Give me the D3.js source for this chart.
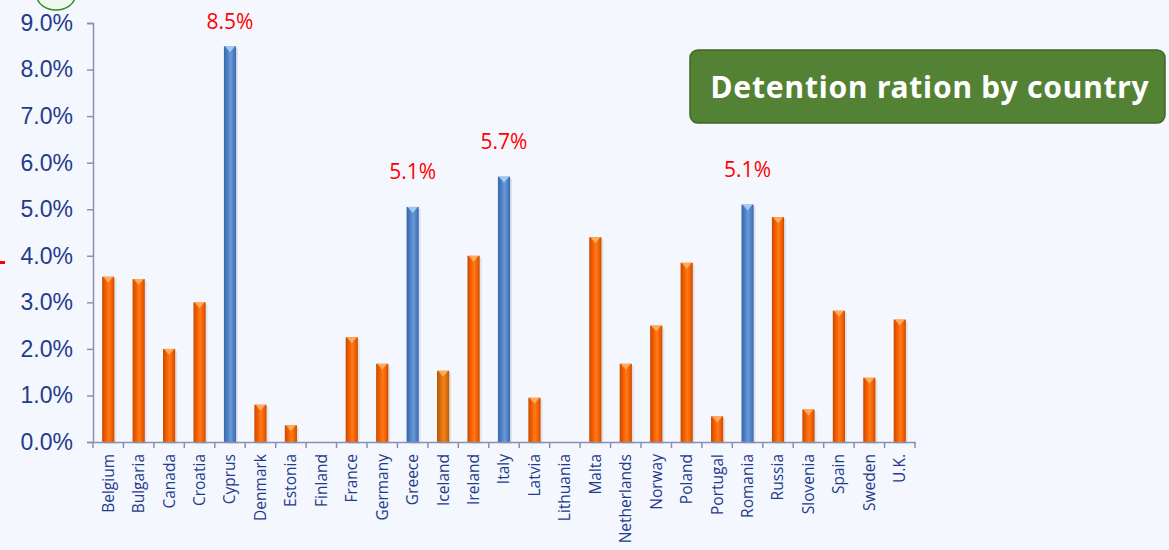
<!DOCTYPE html>
<html>
<head>
<meta charset="utf-8">
<script src="https://cdn.jsdelivr.net/npm/d3@7"></script>
<style>
  body { margin: 0; background: #f4f7fd; }
  svg { display: block; }
</style>
</head>
<body>
<svg width="1169" height="550"></svg>
<script>
// data
var countries = ["Belgium", "Bulgaria", "Canada", "Croatia", "Cyprus", "Denmark", "Estonia", "Finland",
  "France", "Germany", "Greece", "Iceland", "Ireland", "Italy", "Latvia", "Lithuania", "Malta",
  "Netherlands", "Norway", "Poland", "Portugal", "Romania", "Russia", "Slovenia", "Spain", "Sweden", "U.K."];
var ratios = [3.55, 3.5, 2.0, 3.0, 8.5, 0.8, 0.36, 0, 2.25, 1.68, 5.05, 1.53, 4.0, 5.7, 0.95, 0,
  4.4, 1.68, 2.5, 3.85, 0.55, 5.1, 4.83, 0.7, 2.82, 1.38, 2.63];
var highlighted = ["Cyprus", "Greece", "Italy", "Romania"];
var callouts = [
  {country: "Cyprus", label: "8.5%"},
  {country: "Greece", label: "5.1%"},
  {country: "Italy", label: "5.7%"},
  {country: "Romania", label: "5.1%"}
];
var yTicks = [0, 1, 2, 3, 4, 5, 6, 7, 8, 9];
var title = "Detention ration by country";

var data = countries.map(function(c, i) { return {country: c, value: ratios[i]}; });

var svg = d3.select("svg");
var margin = {top: 23, left: 93, right: 254, bottom: 108};
var width = 1169 - margin.left - margin.right;
var height = 550 - margin.top - margin.bottom;
var axisColor = "#8a8fb4";
var labelColor = "#1f3b8c";

// gradients
var defs = svg.append("defs");
function barGradient(id, dark, mid, light) {
  var g = defs.append("linearGradient").attr("id", id).attr("x1", "0%").attr("x2", "100%");
  g.append("stop").attr("offset", "0%").attr("stop-color", dark);
  g.append("stop").attr("offset", "30%").attr("stop-color", mid);
  g.append("stop").attr("offset", "55%").attr("stop-color", light);
  g.append("stop").attr("offset", "80%").attr("stop-color", mid);
  g.append("stop").attr("offset", "100%").attr("stop-color", dark);
}
barGradient("orange", "#c84a00", "#f45f00", "#ff7a1a");
barGradient("iceland", "#b45800", "#dc6e08", "#ea8424");
barGradient("blue", "#3a68a8", "#4d80c6", "#6a9ad6");

var x = d3.scaleBand().domain(countries).range([0, width]).paddingInner(0.6).paddingOuter(0.3);
var y = d3.scaleLinear().domain([0, 9]).range([height, 0]);

var g = svg.append("g").attr("transform", "translate(" + margin.left + "," + margin.top + ")");

// y axis
var yAxis = g.append("g")
  .call(d3.axisLeft(y).tickValues(yTicks).tickSize(6).tickPadding(14)
    .tickFormat(function(d) { return d.toFixed(1) + "%"; }));
yAxis.selectAll("text")
  .attr("fill", labelColor)
  .style("font-family", "'Liberation Sans', Arial, sans-serif")
  .style("font-size", "23px");
yAxis.select(".domain").attr("stroke", axisColor).attr("stroke-width", 1.5);
yAxis.selectAll(".tick line").attr("stroke", axisColor).attr("stroke-width", 1.5);

// bars
function fillFor(d) {
  if (highlighted.indexOf(d.country) >= 0) return "url(#blue)";
  if (d.country === "Iceland") return "url(#iceland)";
  return "url(#orange)";
}
var bars = g.selectAll(".bar").data(data.filter(function(d) { return d.value > 0; }))
  .enter().append("g").attr("class", "bar");

bars.append("rect")
  .attr("x", function(d) { return x(d.country) + 2; })
  .attr("y", function(d) { return y(d.value) + 2; })
  .attr("width", x.bandwidth())
  .attr("height", function(d) { return height - y(d.value); })
  .attr("fill", "#000").attr("opacity", 0.08);

bars.append("rect")
  .attr("x", function(d) { return x(d.country); })
  .attr("y", function(d) { return y(d.value); })
  .attr("width", x.bandwidth())
  .attr("height", function(d) { return height - y(d.value); })
  .attr("fill", fillFor);

// little cone on top of each bar
bars.append("path")
  .attr("d", function(d) {
    var x0 = x(d.country), w = x.bandwidth(), t = y(d.value);
    return "M" + (x0 + 1) + "," + t + "L" + (x0 + w - 1) + "," + t + "L" + (x0 + w / 2) + "," + (t + 6) + "Z";
  })
  .attr("fill", function(d) { return highlighted.indexOf(d.country) >= 0 ? "#a8d0f4" : "#ffb060"; })
  .attr("opacity", 0.9);

// x axis
var xAxis = g.append("g")
  .attr("transform", "translate(0," + height + ")")
  .call(d3.axisBottom(x).tickSize(0).tickPadding(12));
xAxis.select(".domain").attr("stroke", axisColor).attr("stroke-width", 1.5);
xAxis.selectAll("text")
  .attr("transform", "rotate(-90)")
  .attr("text-anchor", "end")
  .attr("dx", "-12")
  .attr("dy", "0.35em")
  .attr("x", 0).attr("y", 0)
  .attr("fill", labelColor)
  .style("font-family", "'Open Sans', 'Noto Sans', sans-serif")
  .style("font-size", "15.5px");
// separator ticks between categories
g.append("g").selectAll("line")
  .data(d3.range(countries.length + 1))
  .enter().append("line")
  .attr("x1", function(i) { return i * width / countries.length; })
  .attr("x2", function(i) { return i * width / countries.length; })
  .attr("y1", height).attr("y2", height + 6)
  .attr("stroke", axisColor).attr("stroke-width", 1.5);

// red callouts
g.selectAll(".callout").data(callouts).enter().append("text")
  .attr("x", function(d) { return x(d.country) + x.bandwidth() / 2; })
  .attr("y", function(d) {
    var v = ratios[countries.indexOf(d.country)];
    return Math.max(y(v) - 28, 6);
  })
  .attr("text-anchor", "middle")
  .style("font-family", "'Open Sans', 'Noto Sans', sans-serif")
  .style("font-size", "21px")
  .attr("fill", "#ff0000")
  .text(function(d) { return d.label; });

// title box
svg.append("rect")
  .attr("x", 690).attr("y", 50).attr("width", 475).attr("height", 73)
  .attr("rx", 8).attr("ry", 8)
  .attr("fill", "#548235").attr("stroke", "#3f6526").attr("stroke-width", 1.5);
svg.append("text")
  .attr("x", 930).attr("y", 98)
  .attr("text-anchor", "middle")
  .style("font-family", "'Noto Sans', 'Open Sans', sans-serif")
  .style("font-weight", "bold")
  .style("font-size", "30px")
  .style("letter-spacing", "0.8px")
  .attr("fill", "#ffffff")
  .text(title);

// stray marks at the slide edge
svg.append("ellipse")
  .attr("cx", 56).attr("cy", -4).attr("rx", 19).attr("ry", 14)
  .attr("fill", "#f0f8ee").attr("stroke", "#2e8b2e").attr("stroke-width", 1.5);
svg.append("rect").attr("x", 0).attr("y", 261).attr("width", 5).attr("height", 3).attr("fill", "#ff0000");
</script>
</body>
</html>
